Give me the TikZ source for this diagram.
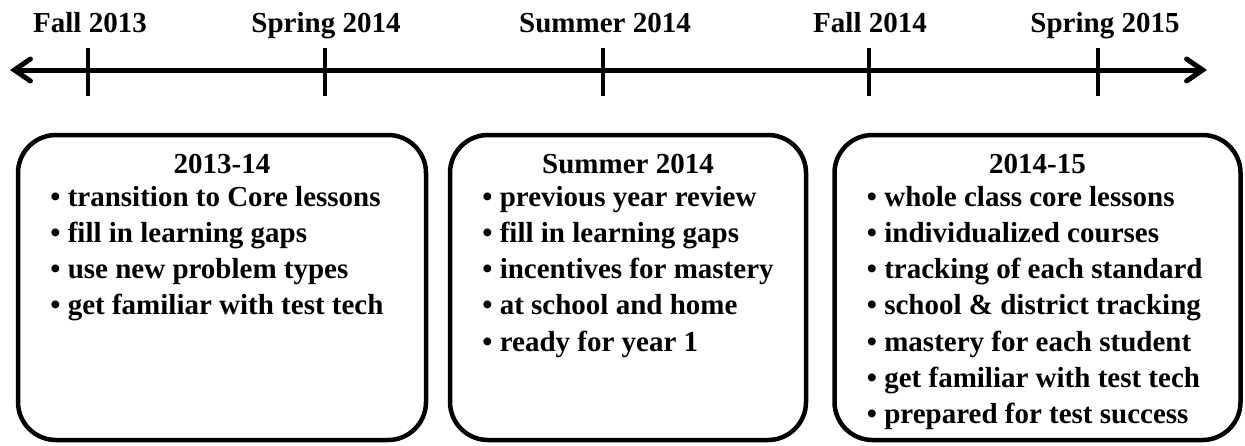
\documentclass[tikz,border=0pt]{standalone}
\usepackage{fontspec}
\setmainfont{Liberation Serif}
\usetikzlibrary{arrows.meta}
\newcommand{\itm}{\textbullet\ }
\tikzset{
  txt/.style={font=\bfseries\fontsize{14.5pt}{18.15pt}\selectfont, inner sep=0pt},
  panel/.style={draw, line width=2.25pt, rounded corners=19pt, inner sep=0pt, outer sep=0pt, minimum height=152.5pt},
  tick/.style={line width=2pt},
  axis/.style={line width=2.5pt, {Straight Barb[length=8pt,width=11pt,line cap=round]}-{Straight Barb[length=8pt,width=11pt,line cap=round]}}
}
\begin{document}
\begin{tikzpicture}[x=0.5pt,y=-0.5pt]
    \useasboundingbox (0,0) rectangle (1245,445);
    % timeline
    \coordinate (left) at (10,70);
    \coordinate (right) at (1207,70);
    \draw[axis] (left) -- (right);
    \coordinate (t1a) at (88,48);   \coordinate (t1b) at (88,96);
    \coordinate (t2a) at (325,48);  \coordinate (t2b) at (325,96);
    \coordinate (t3a) at (603,48);  \coordinate (t3b) at (603,96);
    \coordinate (t4a) at (869,48);  \coordinate (t4b) at (869,96);
    \coordinate (t5a) at (1098,48); \coordinate (t5b) at (1098,96);
    \draw[tick] (t1a) -- (t1b);
    \draw[tick] (t2a) -- (t2b);
    \draw[tick] (t3a) -- (t3b);
    \draw[tick] (t4a) -- (t4b);
    \draw[tick] (t5a) -- (t5b);
    \node[txt, anchor=base] (fall13) at (90,32) {Fall 2013};
    \node[txt, anchor=base] (spr14) at (326,32) {Spring 2014};
    \node[txt, anchor=base] (sum14) at (605,32) {Summer 2014};
    \node[txt, anchor=base] (fall14) at (870,32) {Fall 2014};
    \node[txt, anchor=base] (spr15) at (1105,32) {Spring 2015};
    % boxes
    \node[panel, minimum width=204pt] (box1) at (222,287.5) {};
    \node[panel, minimum width=178pt] (box2) at (628,287.5) {};
    \node[panel, minimum width=203pt] (box3) at (1037.5,287.5) {};
    \node[txt, anchor=base] (ttl1) at ([yshift=-19pt]box1.north) {2013-14};
    \node[txt, anchor=base] (ttl2) at ([yshift=-19pt]box2.north) {Summer 2014};
    \node[txt, anchor=base] (ttl3) at ([yshift=-19pt]box3.north) {2014-15};
    % lists sit on the baseline of their last line
    \node[txt, align=left, anchor=base west] (lst1) at ([xshift=16pt,yshift=-70.95pt]box1.west |- ttl1.base)
        {\itm transition to Core lessons\\ \itm fill in learning gaps\\ \itm use new problem types\\ \itm get familiar with test tech};
    \node[txt, align=left, anchor=base west] (lst2) at ([xshift=16pt,yshift=-89.1pt]box2.west |- ttl2.base)
        {\itm previous year review\\ \itm fill in learning gaps\\ \itm incentives for mastery\\ \itm at school and home\\ \itm ready for year 1};
    \node[txt, align=left, anchor=base west] (lst3) at ([xshift=16pt,yshift=-125.4pt]box3.west |- ttl3.base)
        {\itm whole class core lessons\\ \itm individualized courses\\ \itm tracking of each standard\\ \itm school \& district tracking\\ \itm mastery for each student\\ \itm get familiar with test tech\\ \itm prepared for test success};
\end{tikzpicture}
\end{document}
